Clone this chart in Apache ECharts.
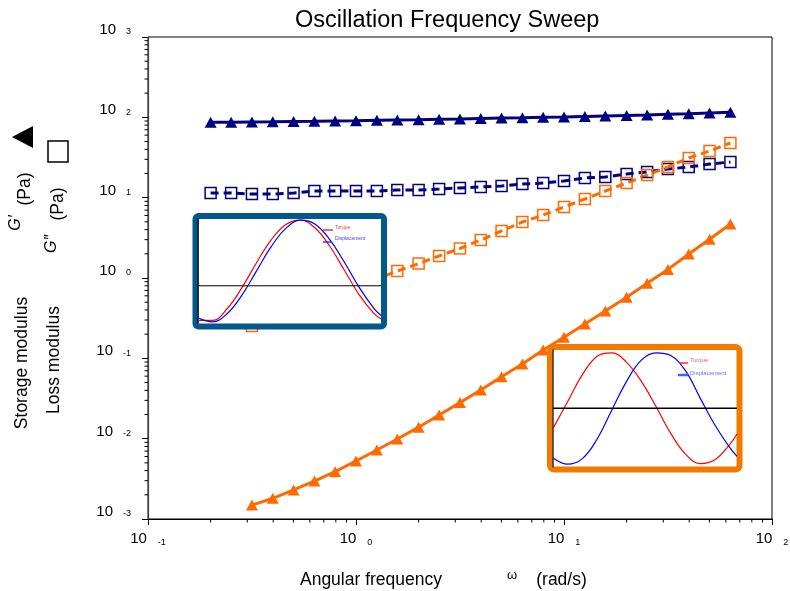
<!DOCTYPE html>
<html>
<head>
<meta charset="utf-8">
<script src="https://cdn.jsdelivr.net/npm/echarts@6.0.0/dist/echarts.min.js"></script>
<style>
  html, body { margin: 0; padding: 0; background: #fff; }
  #chart { width: 790px; height: 591px; }
</style>
</head>
<body>
<div id="chart"></div>
<script>
// angular frequency, rad/s
const freqNavy = [0.2, 0.251, 0.316, 0.398, 0.501, 0.631, 0.794, 1, 1.26, 1.58, 2, 2.51, 3.16,
  3.98, 5.01, 6.31, 7.94, 10, 12.6, 15.8, 20, 25.1, 31.6, 39.8, 50.1, 63.1]
const freqOrange = [0.316, 0.398, 0.501, 0.631, 0.794, 1, 1.26, 1.58, 2, 2.51, 3.16,
  3.98, 5.01, 6.31, 7.94, 10, 12.6, 15.8, 20, 25.1, 31.6, 39.8, 50.1, 63.1]

// moduli, Pa
const storageNavy = [86.7, 87.0, 87.5, 88.0, 88.7, 89.2, 90.0, 90.8, 91.8, 92.6, 93.4, 94.5, 95.3,
  96.7, 98.1, 98.9, 100.1, 101.0, 102.4, 103.9, 105.4, 106.9, 109.1, 111.0, 113.2, 115.5]
const lossNavy = [11.4, 11.4, 11.1, 11.1, 11.4, 12.1, 12.1, 12.1, 12.1, 12.45, 12.45, 12.8, 13.2,
  13.6, 14.0, 14.8, 15.2, 16.1, 17.6, 18.1, 19.7, 20.9, 22.7, 24.1, 26.2, 27.8]
const storageOrange = [0.00149, 0.00181, 0.0023, 0.00297, 0.00388, 0.00527, 0.00723, 0.0099,
  0.0139, 0.0197, 0.0281, 0.0404, 0.0591, 0.085, 0.127, 0.183, 0.267, 0.388, 0.575, 0.859,
  1.28, 1.99, 3.03, 4.7]
const lossOrange = [0.252, 0.318, 0.4, 0.502, 0.614, 0.773, 0.971, 1.22, 1.51, 1.88, 2.33, 2.97,
  3.85, 4.98, 6.08, 7.65, 9.62, 12.1, 15.2, 19.1, 24.1, 31.2, 38.1, 47.9]

// tick values
const xDecades = [0.1, 1, 10, 100]
const yDecades = [0.001, 0.01, 0.1, 1, 10, 100, 1000]
const minorSteps = [2, 3, 4, 5, 6, 7, 8, 9]

// inset waveforms (time in % of window, amplitude relative)
const insetTime = [0, 8, 16, 24, 32, 40, 48, 56, 64, 72, 80, 88, 96, 100]
const torqueLow = [-0.97, -0.969, -0.736, -0.327, 0.162, 0.61, 0.912, 0.997, 0.843, 0.485, 0.014, -0.462, -0.828, -0.94]
const dispLow = [-0.919, -0.996, -0.834, -0.473, 0.003, 0.477, 0.836, 0.996, 0.918, 0.617, 0.172, -0.316, -0.729, -0.874]
const baseLow = -0.29
const torqueHigh = [-0.36, 0.12, 0.6, 0.93, 0.99, 0.82, 0.48, 0.03, -0.45, -0.82, -0.99, -0.92, -0.65, -0.46]
const dispHigh = [-0.89, -1.0, -0.9, -0.55, -0.03, 0.48, 0.86, 0.99, 0.94, 0.67, 0.18, -0.3, -0.7, -0.86]
const baseHigh = 0

const FONT = "'Liberation Sans', Arial, sans-serif"
const NAVY = "#000080"
const ORANGE = "#ff6a00"

const pairs = (xs, ys) => xs.map((x, i) => [x, ys[i]])

const minorOf = (decades) => {
	const out = []
	decades.slice(0, -1).forEach((d) => minorSteps.forEach((m) => out.push(+(d * m).toPrecision(3))))
	return out
}
const xMinor = minorOf(xDecades)
const yMinor = minorOf(yDecades)

const powLabel = (v) => "{b|10}{e|" + Math.round(Math.log10(v)) + "}"

const chart = echarts.init(document.getElementById("chart"))

chart.setOption({
	backgroundColor: "#fff",
	animation: false,
	title: {
		text: "Oscillation Frequency Sweep",
		left: 295,
		top: 9,
		padding: 0,
		textStyle: { fontSize: 23.5, fontWeight: "normal", color: "#000", fontFamily: FONT },
	},
	grid: [
		{ left: 148, top: 37, right: 18, bottom: 72, show: true, borderColor: "#000", borderWidth: 1, outerBoundsMode: "none" },
		{ left: 198, top: 219, width: 183, height: 104, z: 11, outerBoundsMode: "none" },
		{ left: 553, top: 350, width: 184, height: 117, z: 11, outerBoundsMode: "none" },
	],
	xAxis: [
		{
			type: "log",
			logBase: 10,
			min: 0.1,
			max: 100,
			axisLine: { lineStyle: { color: "#000", width: 1.2 } },
			axisTick: { length: 6, lineStyle: { color: "#000" } },
			splitLine: { show: false },
			axisLabel: {
				margin: 11,
				showMinLabel: true,
				showMaxLabel: true,
				formatter: powLabel,
				rich: {
					b: { fontSize: 15, color: "#000", fontFamily: FONT },
					e: { fontSize: 9, color: "#000", fontFamily: FONT, padding: [8, 0, 0, 11] },
				},
			},
		},
		{ type: "value", gridIndex: 1, min: 0, max: 100, show: false },
		{ type: "value", gridIndex: 2, min: 0, max: 100, show: false },
	],
	yAxis: [
		{
			type: "log",
			logBase: 10,
			min: 0.001,
			max: 1000,
			axisLine: { lineStyle: { color: "#444", width: 1.2 } },
			axisTick: { length: 6, lineStyle: { color: "#000" } },
			splitLine: { show: false },
			axisLabel: {
				margin: 17,
				showMinLabel: true,
				showMaxLabel: true,
				padding: [0, 0, 14, 0],
				formatter: powLabel,
				rich: {
					b: { fontSize: 15, color: "#000", fontFamily: FONT },
					e: { fontSize: 9, color: "#000", fontFamily: FONT, padding: [4, 0, 0, 10] },
				},
			},
		},
		{
			type: "value", gridIndex: 1, min: -1.02, max: 1.02, z: 11,
			axisLine: { show: true, onZero: false, lineStyle: { color: "#111", width: 1.5 } },
			axisTick: { show: false }, axisLabel: { show: false }, splitLine: { show: false },
		},
		{
			type: "value", gridIndex: 2, min: -1.05, max: 1.04, z: 11,
			axisLine: { show: true, onZero: false, lineStyle: { color: "#333", width: 1.5 } },
			axisTick: { show: false }, axisLabel: { show: false }, splitLine: { show: false },
		},
	],
	series: [
		{
			name: "G' navy",
			type: "line",
			data: pairs(freqNavy, storageNavy),
			symbol: "triangle",
			symbolSize: [12, 11],
			lineStyle: { color: NAVY, width: 3 },
			itemStyle: { color: NAVY },
		},
		{
			name: "G'' navy",
			type: "line",
			data: pairs(freqNavy, lossNavy),
			symbol: "rect",
			symbolSize: 11,
			lineStyle: { color: NAVY, width: 3, type: [8, 5] },
			itemStyle: { color: "rgba(255,255,255,0)", borderColor: NAVY, borderWidth: 1.5 },
		},
		{
			name: "G' orange",
			type: "line",
			data: pairs(freqOrange, storageOrange),
			symbol: "triangle",
			symbolSize: [12, 11],
			lineStyle: { color: ORANGE, width: 3 },
			itemStyle: { color: ORANGE },
		},
		{
			name: "G'' orange",
			type: "line",
			data: pairs(freqOrange, lossOrange),
			symbol: "rect",
			symbolSize: 11,
			lineStyle: { color: ORANGE, width: 3, type: [8, 5] },
			itemStyle: { color: "rgba(255,255,255,0)", borderColor: ORANGE, borderWidth: 1.5 },
		},
		// minor log ticks, placed through the axes' own scales
		{
			type: "custom",
			clip: false,
			silent: true,
			z: 3,
			data: xMinor.map((v) => [v, 0.001]),
			renderItem: (params, api) => {
				const p = api.coord([api.value(0), api.value(1)])
				return { type: "line", shape: { x1: p[0], y1: p[1], x2: p[0], y2: p[1] + 3.5 }, style: { stroke: "#000", lineWidth: 1 } }
			},
		},
		{
			type: "custom",
			clip: false,
			silent: true,
			z: 3,
			data: yMinor.map((v) => [0.1, v]),
			renderItem: (params, api) => {
				const p = api.coord([api.value(0), api.value(1)])
				return { type: "line", shape: { x1: p[0] - 3.5, y1: p[1], x2: p[0], y2: p[1] }, style: { stroke: "#000", lineWidth: 1 } }
			},
		},
		// inset: low frequency waveform
		{
			type: "line", xAxisIndex: 1, yAxisIndex: 1, z: 11, showSymbol: false, smooth: 0.4,
			data: pairs(insetTime, torqueLow), lineStyle: { color: "#ff0000", width: 1.2 },
		},
		{
			type: "line", xAxisIndex: 1, yAxisIndex: 1, z: 11, showSymbol: false, smooth: 0.4,
			data: pairs(insetTime, dispLow), lineStyle: { color: "#0000ff", width: 1.2 },
		},
		{
			type: "line", xAxisIndex: 1, yAxisIndex: 1, z: 11, showSymbol: false,
			data: [[0, baseLow], [100, baseLow]], lineStyle: { color: "#000", width: 1 },
		},
		// inset: high frequency waveform
		{
			type: "line", xAxisIndex: 2, yAxisIndex: 2, z: 11, showSymbol: false, smooth: 0.4,
			data: pairs(insetTime, torqueHigh), lineStyle: { color: "#ff0000", width: 1.2 },
		},
		{
			type: "line", xAxisIndex: 2, yAxisIndex: 2, z: 11, showSymbol: false, smooth: 0.4,
			data: pairs(insetTime, dispHigh), lineStyle: { color: "#0000ff", width: 1.2 },
		},
		{
			type: "line", xAxisIndex: 2, yAxisIndex: 2, z: 11, showSymbol: false,
			data: [[0, baseHigh], [100, baseHigh]], lineStyle: { color: "#000", width: 1.5 },
		},
	],
	graphic: [
		// inset frames
		{ type: "rect", z: 10, shape: { x: 195.5, y: 216, width: 188.5, height: 110.5, r: 3 }, style: { fill: "#fff", stroke: "#00588c", lineWidth: 6 } },
		{ type: "rect", z: 10, shape: { x: 550, y: 347, width: 189.5, height: 122.5, r: 4 }, style: { fill: "#fff", stroke: "#f27a00", lineWidth: 6 } },
		// inset legends
		{ type: "line", z: 12, shape: { x1: 323, y1: 230, x2: 333, y2: 230 }, style: { stroke: "#ff3030", lineWidth: 1.5 } },
		{ type: "text", z: 12, x: 335, y: 228, style: { text: "Torque", fill: "#ff4040", font: "5px " + FONT, textVerticalAlign: "middle" } },
		{ type: "line", z: 12, shape: { x1: 323, y1: 242, x2: 331, y2: 242 }, style: { stroke: "#3030ff", lineWidth: 1.5 } },
		{ type: "text", z: 12, x: 335, y: 239, style: { text: "Displacement", fill: "#4040ff", font: "5px " + FONT, textVerticalAlign: "middle" } },
		{ type: "line", z: 12, shape: { x1: 679, y1: 363, x2: 688, y2: 363 }, style: { stroke: "#ff3030", lineWidth: 1.5 } },
		{ type: "text", z: 12, x: 690, y: 360, style: { text: "Torque", fill: "#ff6060", font: "6px " + FONT, textVerticalAlign: "middle" } },
		{ type: "line", z: 12, shape: { x1: 678, y1: 375, x2: 688, y2: 375 }, style: { stroke: "#4060ff", lineWidth: 2.5 } },
		{ type: "text", z: 12, x: 690, y: 373, style: { text: "Displacement", fill: "#6070ff", font: "6px " + FONT, textVerticalAlign: "middle" } },
		// y axis titles
		{ type: "text", x: 22, y: 363, rotation: Math.PI / 2, style: { text: "Storage modulus", fill: "#000", font: "17.5px " + FONT, textAlign: "center", textVerticalAlign: "middle" } },
		{ type: "text", x: 16, y: 223, rotation: Math.PI / 2, style: { text: "G\u2032", fill: "#000", font: "italic 16px " + FONT, textAlign: "center", textVerticalAlign: "middle" } },
		{ type: "text", x: 25, y: 189, rotation: Math.PI / 2, style: { text: "(Pa)", fill: "#000", font: "17.5px " + FONT, textAlign: "center", textVerticalAlign: "middle" } },
		{ type: "polygon", shape: { points: [[12, 137], [33, 126], [33, 148]] }, style: { fill: "#000" } },
		{ type: "text", x: 54, y: 360, rotation: Math.PI / 2, style: { text: "Loss modulus", fill: "#000", font: "17.5px " + FONT, textAlign: "center", textVerticalAlign: "middle" } },
		{ type: "text", x: 52, y: 244, rotation: Math.PI / 2, style: { text: "G\u2033", fill: "#000", font: "italic 16px " + FONT, textAlign: "center", textVerticalAlign: "middle" } },
		{ type: "text", x: 58, y: 204, rotation: Math.PI / 2, style: { text: "(Pa)", fill: "#000", font: "17.5px " + FONT, textAlign: "center", textVerticalAlign: "middle" } },
		{ type: "rect", shape: { x: 48, y: 141, width: 20, height: 21 }, style: { fill: "none", stroke: "#000", lineWidth: 1.5 } },
		// x axis title
		{ type: "text", x: 371, y: 580, style: { text: "Angular frequency", fill: "#000", font: "17.5px " + FONT, textAlign: "center", textVerticalAlign: "middle" } },
		{ type: "text", x: 512, y: 575, style: { text: "\u03c9", fill: "#000", font: "13px " + FONT, textAlign: "center", textVerticalAlign: "middle" } },
		{ type: "text", x: 561.5, y: 580, style: { text: "(rad/s)", fill: "#000", font: "17.5px " + FONT, textAlign: "center", textVerticalAlign: "middle" } },
	],
})

window.addEventListener("resize", () => chart.resize())
</script>
</body>
</html>
